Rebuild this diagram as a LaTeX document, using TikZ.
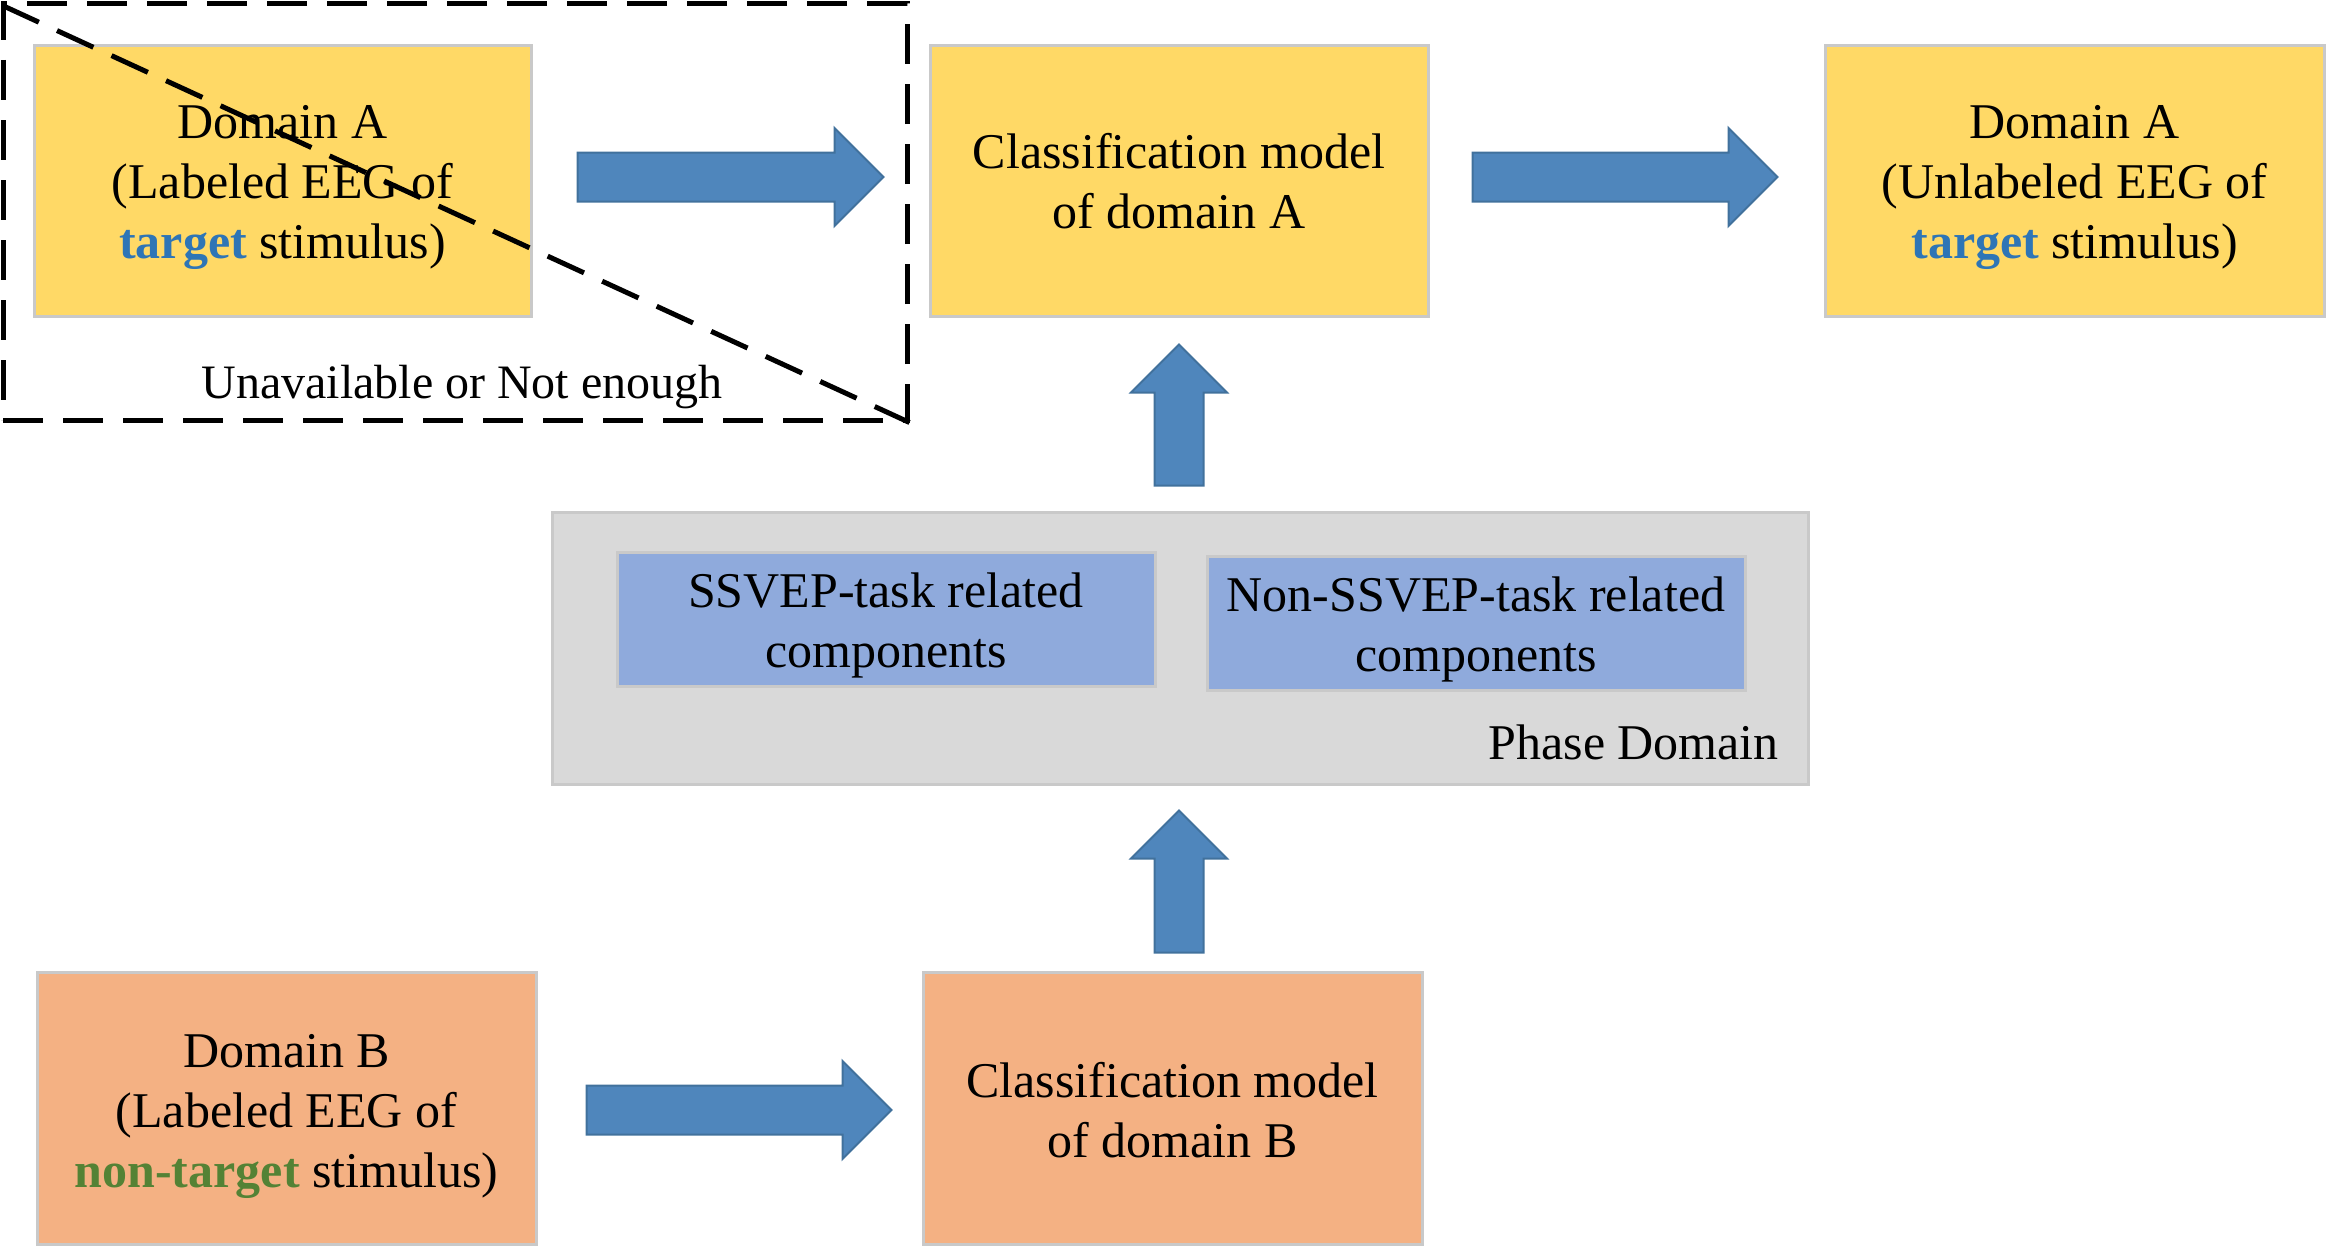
\documentclass[tikz,border=0pt]{standalone}
\usepackage{fontspec}
\setmainfont{Liberation Serif}
\usetikzlibrary{calc}
\definecolor{boxyellow}{HTML}{FFD966}
\definecolor{boxorange}{HTML}{F4B183}
\definecolor{boxblue}{HTML}{8FAADC}
\definecolor{boxgray}{HTML}{D9D9D9}
\definecolor{boxedge}{HTML}{C9C9C9}
\definecolor{arrowfill}{HTML}{4F86BC}
\definecolor{arrowedge}{HTML}{41719C}
\definecolor{tgtblue}{HTML}{2E75B6}
\definecolor{tgtgreen}{HTML}{548235}
\tikzset{
  txt/.style={font=\fontsize{50}{60}\selectfont, align=center, inner sep=0pt},
  basebox/.style={draw=boxedge, line width=3pt, inner sep=0pt},
  ybox/.style={basebox, fill=boxyellow, minimum width=497pt, minimum height=270pt},
  obox/.style={basebox, fill=boxorange, minimum width=499pt, minimum height=272pt},
  bbox/.style={basebox, fill=boxblue, minimum width=538pt, minimum height=134pt},
  gbox/.style={basebox, fill=boxgray, minimum width=1256pt, minimum height=272pt},
  dashbox/.style={draw=black, line width=5pt, dash pattern=on 40pt off 20pt, minimum width=904pt, minimum height=416pt, inner sep=0pt},
  fat/.style={fill=arrowfill, draw=arrowedge, line width=2pt, line join=miter}
}
\begin{document}
\begin{tikzpicture}[x=1pt,y=-1pt]
\useasboundingbox (0,0) rectangle (2327,1247);

% boxes
\node[ybox] (dA) at (282.5,181) {};
\node[txt] (dAt) at ($(dA)+(0,6)$) {Domain A\\(Labeled EEG of\\{\color{tgtblue}\bfseries target} stimulus)};
\node[ybox, minimum width=498pt] (cA) at (1179,181) {};
\node[txt] (cAt) at (cA) {Classification model\\of domain A};
\node[ybox, minimum width=499pt] (dAr) at (2074.5,181) {};
\node[txt] (dArt) at ($(dAr)+(0,6)$) {Domain A\\(Unlabeled EEG of\\{\color{tgtblue}\bfseries target} stimulus)};

\node[gbox] (phase) at (1180,648) {};
\node[bbox] (ss) at (886,619) {};
\node[txt] (sst) at ($(ss)+(0,6)$) {SSVEP-task related\\components};
\node[bbox] (ns) at (1476,623.5) {};
\node[txt] (nst) at ($(ns)+(0,6)$) {Non-SSVEP-task related\\components};
\node[txt, anchor=east] (phlbl) at (1779,742) {Phase Domain};

\node[obox] (dB) at (286.5,1108) {};
\node[txt] (dBt) at ($(dB)+(0,8)$) {Domain B\\(Labeled EEG of\\{\color{tgtgreen}\bfseries non-target} stimulus)};
\node[obox] (cB) at (1172.5,1108) {};
\node[txt] (cBt) at ($(cB)+(0,2)$) {Classification model\\of domain B};

% dashed region
\node[dashbox] (unav) at (455,212) {};
\draw[line width=5pt, dash pattern=on 40pt off 20pt] ($(unav.north west)+(2,4)$) -- (unav.south east);
\node[txt, font=\fontsize{48}{58}\selectfont] (unavlbl) at (462,387) {Unavailable or Not enough};

% right arrows
\coordinate (a1s) at ($(dA.east)+(45,-4)$);
\coordinate (a1e) at ($(cA.west)+(-45,-4)$);
\coordinate (a2s) at ($(cA.east)+(43,-4)$);
\coordinate (a2e) at ($(dAr.west)+(-46,-4)$);
\coordinate (a3s) at ($(dB.east)+(49,2)$);
\coordinate (a3e) at ($(cB.west)+(-30,2)$);
\foreach \s/\e in {a1s/a1e, a2s/a2e, a3s/a3e}{
  \draw[fat] ($(\s)+(0,-24.5)$) -- ($(\e)+(-49,-24.5)$) -- ($(\e)+(-49,-49)$) -- (\e)
    -- ($(\e)+(-49,49)$) -- ($(\e)+(-49,24.5)$) -- ($(\s)+(0,24.5)$) -- cycle;
}

% up arrows
\coordinate (u1s) at ($(phase.north)+(-1,-25)$);
\coordinate (u1e) at ($(cA.south)+(0,27)$);
\coordinate (u2s) at ($(cB.north)+(6.5,-18)$);
\coordinate (u2e) at ($(phase.south)+(-1,25)$);
\foreach \s/\e in {u1s/u1e, u2s/u2e}{
  \draw[fat] ($(\s)+(-24.5,0)$) -- ($(\e)+(-24.5,48)$) -- ($(\e)+(-48,48)$) -- (\e)
    -- ($(\e)+(48,48)$) -- ($(\e)+(24.5,48)$) -- ($(\s)+(24.5,0)$) -- cycle;
}
\end{tikzpicture}
\end{document}
